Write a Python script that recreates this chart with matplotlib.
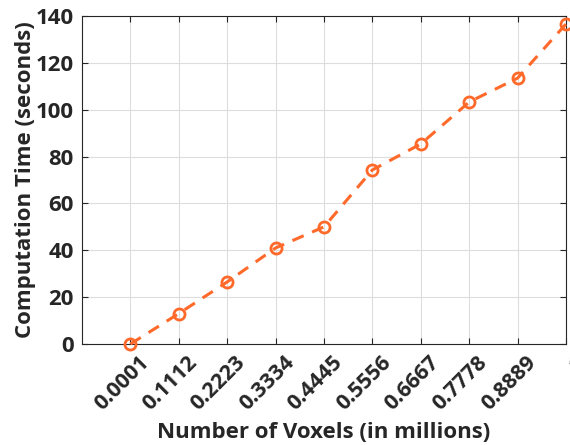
import matplotlib
matplotlib.use("Agg")
import matplotlib.pyplot as plt

voxels = [0.0001, 0.1112, 0.2223, 0.3334, 0.4445, 0.5556, 0.6667, 0.7778, 0.8889, 1.0]
tick_labels = ["0.0001", "0.1112", "0.2223", "0.3334", "0.4445", "0.5556",
               "0.6667", "0.7778", "0.8889", "1"]
times = [0, 13, 26.5, 41, 50, 74.3, 85.4, 103.3, 113.5, 136.6]

plt.rcParams['font.family'] = ['Open Sans', 'DejaVu Sans']
plt.rcParams['font.weight'] = 'bold'

fig = plt.figure(figsize=(5.7, 4.45), dpi=100)
ax = fig.add_axes([0.1439, 0.227, 0.8491, 0.737])

color = '#FF6A2B'
ax.plot(voxels, times, linestyle='--', color=color, linewidth=2.2,
        marker='o', markersize=8, markerfacecolor='none',
        markeredgecolor=color, markeredgewidth=2.0, dashes=(4, 3),
        clip_on=False, zorder=3)

ax.set_xlim(-0.1110, 1.0)
ax.set_ylim(0, 140)
ax.set_xticks(voxels)
ax.set_xticklabels([])
# slanted tick labels, each ending just right of and below its tick
for v, txt in zip(voxels, tick_labels):
    ax.annotate(txt, xy=(v, 0), xycoords=ax.get_xaxis_transform(),
                xytext=(11, -11), textcoords='offset points',
                rotation=45, rotation_mode='anchor', ha='right', va='center',
                fontsize=15.5, fontweight='bold', color='#262626',
                annotation_clip=False)

ax.set_yticks(range(0, 141, 20))
ax.tick_params(axis='y', labelsize=16, labelcolor='#262626')
ax.tick_params(direction='in', length=4, width=0.8, colors='#262626',
               top=True, right=True)
ax.tick_params(axis='y', pad=6)

ax.grid(True, color='#DDDDDD', linewidth=0.8)
ax.set_axisbelow(True)
for s in ax.spines.values():
    s.set_color('#262626')
    s.set_linewidth(0.8)

ax.set_xlabel('Number of Voxels (in millions)', fontsize=16, fontweight='bold',
              color='#262626', labelpad=0)
ax.xaxis.set_label_coords(0.5, -0.302)
ax.xaxis.label.set_va('bottom')
ax.set_ylabel('Computation Time (seconds)', fontsize=16, fontweight='bold',
              color='#262626', labelpad=0)

fig.savefig('out.png', dpi=100)
